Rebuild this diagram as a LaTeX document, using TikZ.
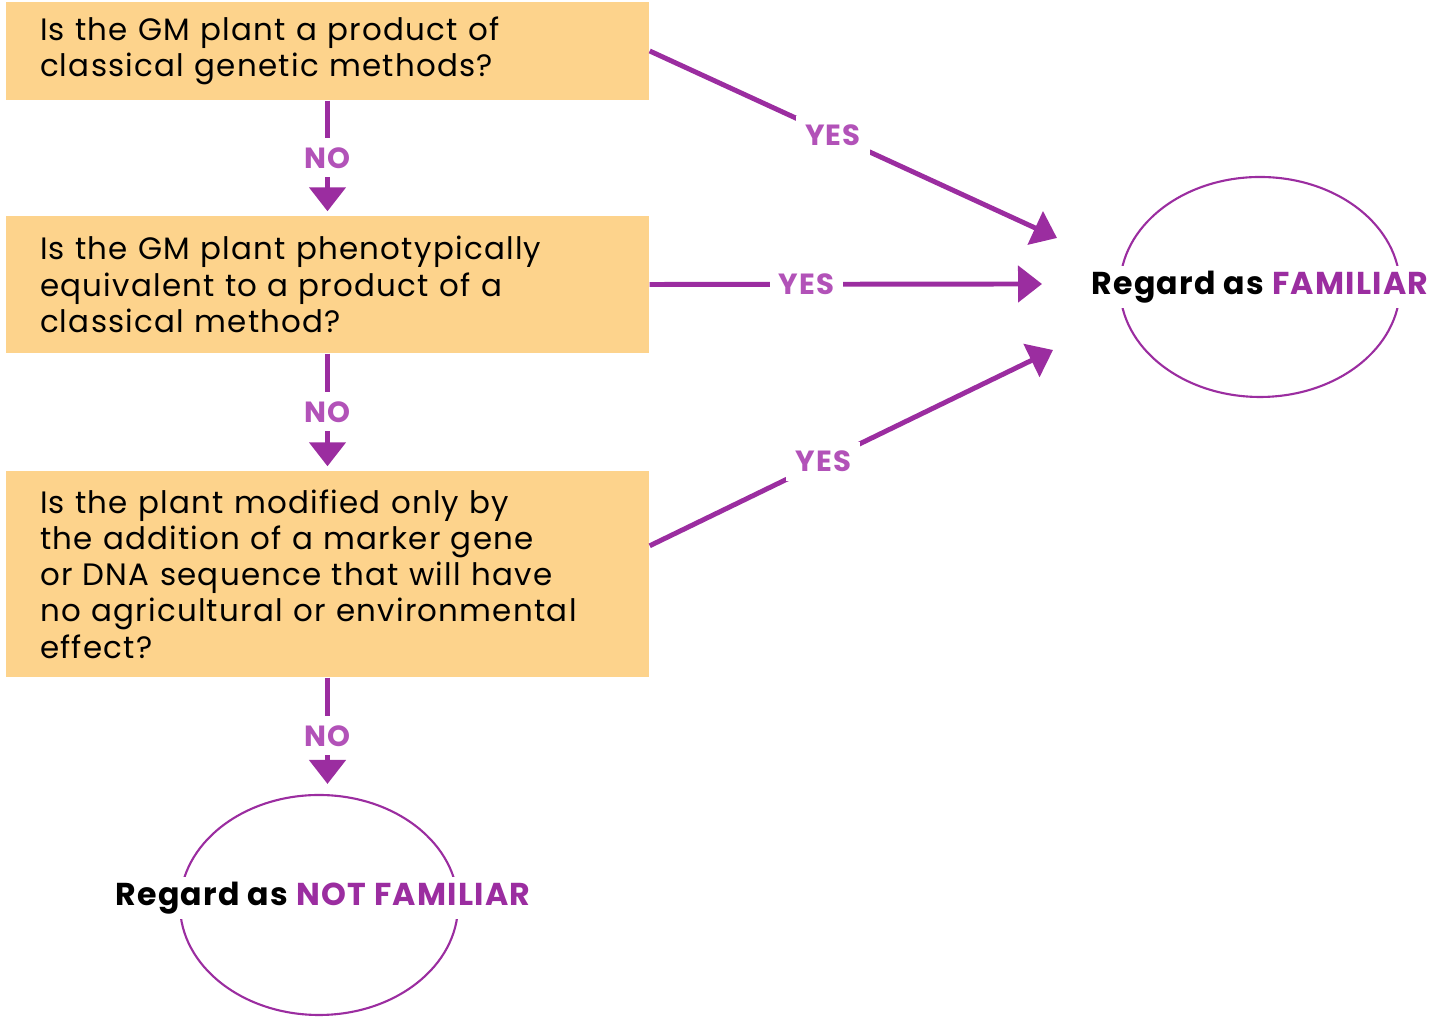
\documentclass[tikz,border=0pt]{standalone}
\usepackage{fontspec}
\setmainfont{Poppins}[LetterSpace=4]
\usetikzlibrary{arrows.meta,shapes.geometric}
\definecolor{peach}{RGB}{253,211,140}
\definecolor{plum}{RGB}{155,45,160}
\definecolor{plumtext}{RGB}{178,82,184}

\begin{document}
\begin{tikzpicture}[
    question/.style={rectangle, fill=peach, minimum width=6.43cm, text width=5.75cm,
      align=left, inner sep=0pt, font=\fontsize{8.8}{10.3}\selectfont},
    answer/.style={ellipse, draw=plum, line width=0.6pt, minimum width=2.8cm, minimum height=2.2cm},
    verdict/.style={fill=white, inner sep=0.05cm, font=\bfseries\fontsize{9}{11}\selectfont},
    reply/.style={fill=white, text=plumtext, inner sep=0.09cm, font=\bfseries\fontsize{8.3}{10}\selectfont},
    flow/.style={draw=plum, line width=1.4pt, -{Triangle[width=0.36cm,length=0.24cm]}}]

      \useasboundingbox (0,0) rectangle (14.35,10.2);

      % questions
      \node[question, minimum height=0.98cm] (box1) at (3.275,9.69)
        {Is the GM plant a product of\\classical genetic methods?};
      \node[question, minimum height=1.37cm] (box2) at (3.275,7.355)
        {Is the GM plant phenotypically\\equivalent to a product of a\\classical method?};
      \node[question, minimum height=2.06cm] (box3) at (3.275,4.46)
        {Is the plant modified only by\\the addition of a marker gene\\or DNA sequence that will have\\no agricultural or environmental\\effect?};

      % answers
      \node[answer] (fam) at (12.60,7.33) {};
      \node[verdict] (famtext) at (fam.center) {Regard as \textcolor{plum}{FAMILIAR}};
      \node[answer, minimum width=2.78cm] (nfam) at (3.19,1.15) {};
      \node[verdict] (nfamtext) at (3.23,1.22) {Regard as \textcolor{plum}{NOT FAMILIAR}};

      % arrow ends
      \path (10.57,7.82) coordinate (t1);
      \path (10.42,7.36) coordinate (t2);
      \path (10.53,6.70) coordinate (t3);

      % no
      \draw[flow, shorten >=0.04cm] (box1) -- node[reply] {NO} (box2);
      \draw[flow, shorten >=0.04cm] (box2) -- node[reply] {NO} (box3);
      \draw[flow, shorten >=0.10cm] (box3) -- node[reply] {NO} (box3 |- nfam.north);

      % yes
      \draw[flow] (box1.east) -- node[reply, pos=0.45] {YES} (t1);
      \draw[flow] (box2.east) -- node[reply, pos=0.4] {YES} (t2);
      \draw[flow] (box3.5.5) -- node[reply, pos=0.43] {YES} (t3);
    \end{tikzpicture}
\end{document}
